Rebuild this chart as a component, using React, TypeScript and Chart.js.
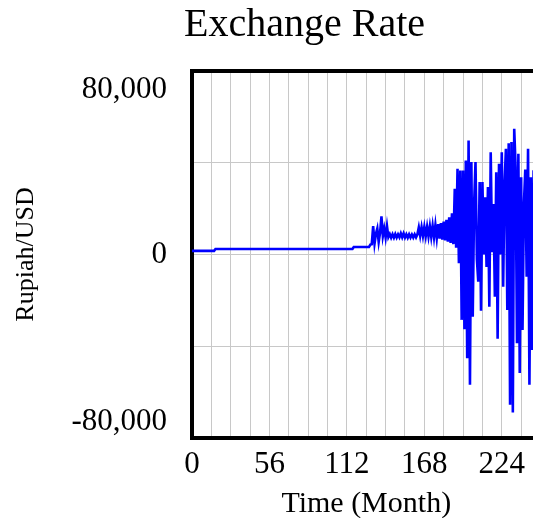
import React, { useEffect, useRef } from "react";
import { Chart, registerables } from "chart.js";

Chart.register(...registerables);

const chartTitle = "Exchange Rate";
const xAxisTitle = "Time (Month)";
const yAxisTitle = "Rupiah/USD";

const xMin = 0;
const xMax = 252;
const xGridStep = 14;
const xLabelStep = 56;

const yMin = -80000;
const yMax = 80000;
const yGridStep = 40000;
const yTickLabels = [80000, 0, -80000];

const months = [
  0, 16, 17, 116, 117, 128,
  129, 130, 131, 132, 133, 134, 135, 136, 137, 138, 139, 140,
  141, 142, 143, 144, 145, 146, 147, 148, 149, 150,
  151, 152, 153, 154, 155, 156, 157, 158, 159, 160,
  161, 162, 163, 164, 165, 166, 167, 168, 169, 170,
  171, 172, 173, 174, 175, 176, 177, 178, 179, 180,
  181, 182, 183, 184, 185, 186, 187, 188, 189, 190,
  191, 192, 193, 194, 195, 196, 197, 198, 199, 200,
  201, 202, 203, 204, 205, 206, 207, 208, 209, 210,
  211, 212, 213, 214, 215, 216, 217, 218, 219, 220,
  221, 222, 223, 224, 225, 226, 227, 228, 229, 230,
  231, 232, 233, 234, 235, 236, 237, 238, 239, 240,
  241, 242, 243, 244, 245, 246, 247, 248, 249, 250,
];

const rupiahPerUsd = [
  1600, 1600, 2400, 2400, 3300, 3300,
  4300, 4500, 12400, 4800, 9000, 11300, 5500, 9500, 16600, 8000, 11300, 7400,
  12400, 7600, 8900, 7300, 8800, 7300, 8900, 7400, 8800, 7500,
  9200, 7500, 9200, 7400, 8800, 7300, 8800, 7400, 8700, 7400,
  8800, 7500, 8800, 11800, 8200, 11900, 8100, 12000, 8000, 12100,
  7900, 12300, 7700, 12500, 7500, 12800, 7200, 13200, 6900, 13700,
  6500, 14300, 6100, 15100, 5600, 16200, 5000, 18000, 4500, 28700,
  3000, 37400, -3800, 36600, -28500, 36650, -32600, 41000, -45200, 49700,
  -56800, 40300, -27100, 22000, 40300, -2000, -11900, 31600, -24500, 31600,
  0, 25000, -5400, 29400, -22800, 44600, 1000, 22000, -18400, 35900,
  -36700, 39600, 0, 44600, -14100, 30900, 46100, -24200, 48500, -65500,
  49000, -68900, 54800, 38100, -38700, 43900, -51700, 33700, -32900, 22000,
  37000, -9700, 46100, -56800, 33700, -41600, 36700, -20000, 30000, 2000,
];

const SERIF = '"Liberation Serif", "Times New Roman", Times, serif';
const GRID = "#c8c8c8";

const yLabelPlugin = {
  id: "vensimYLabels",
  afterDraw(chart: any) {
    const ys = chart.scales.y;
    const ctx = chart.ctx;
    ctx.save();
    ctx.font = `31px ${SERIF}`;
    ctx.fillStyle = "#000";
    ctx.textAlign = "right";
    ctx.textBaseline = "middle";
    for (const v of yTickLabels) {
      let py = ys.getPixelForValue(v);
      if (v === yMax) py += 19;
      else if (v === yMin) py -= 16.5;
      ctx.fillText(v.toLocaleString("en-US"), chart.chartArea.left - 25, py);
    }
    ctx.restore();
  },
};

export default function App() {
  const canvasRef = useRef<HTMLCanvasElement | null>(null);

  useEffect(() => {
    if (!canvasRef.current) return;
    const points = months.map((m, i) => ({ x: m, y: rupiahPerUsd[i] }));
    const chart = new Chart(canvasRef.current, {
      type: "line",
      data: {
        datasets: [
          {
            label: "Exchange Rate",
            data: points,
            borderColor: "#0000ff",
            backgroundColor: "#0000ff",
            borderWidth: 2.6,
            pointRadius: 0,
            tension: 0,
            fill: false,
          },
        ],
      },
      options: {
        animation: false,
        responsive: false,
        devicePixelRatio: 1,
        layout: { padding: 0 },
        plugins: {
          legend: { display: false },
          tooltip: { enabled: false },
          title: {
            display: true,
            text: chartTitle,
            color: "#000",
            font: { family: SERIF, size: 40, weight: "normal", lineHeight: 0.8 },
            padding: { top: 1, bottom: 30 },
          },
        },
        scales: {
          x: {
            type: "linear",
            position: "bottom",
            min: xMin,
            max: xMax,
            ticks: {
              stepSize: xGridStep,
              autoSkip: false,
              maxRotation: 0,
              padding: 11,
              color: "#000",
              font: { family: SERIF, size: 31, lineHeight: 1 },
              callback: (v: any) => (Number(v) % xLabelStep === 0 ? String(v) : ""),
            },
            grid: { color: GRID, lineWidth: 1, drawTicks: false },
            border: { display: true, color: "#000", width: 4 },
            title: {
              display: true,
              text: xAxisTitle,
              color: "#000",
              font: { family: SERIF, size: 30, lineHeight: 0.8 },
              padding: { top: 1, bottom: 2 },
            },
          },
          xTop: {
            type: "linear",
            position: "top",
            min: xMin,
            max: xMax,
            ticks: { display: false },
            grid: { display: false, drawTicks: false },
            border: { display: true, color: "#000", width: 4 },
            afterFit: (s: any) => {
              s.height = 0;
            },
          },
          y: {
            type: "linear",
            position: "left",
            min: yMin,
            max: yMax,
            ticks: { display: false, stepSize: yGridStep },
            grid: { color: GRID, lineWidth: 1, drawTicks: false },
            border: { display: true, color: "#000", width: 4 },
            title: {
              display: true,
              text: yAxisTitle,
              color: "#000",
              font: { family: SERIF, size: 26, lineHeight: 1 },
              padding: { top: 5, bottom: 0 },
            },
            afterFit: (s: any) => {
              s.width = 184;
            },
          },
          yRight: {
            type: "linear",
            position: "right",
            min: yMin,
            max: yMax,
            ticks: { display: false },
            grid: { display: false, drawTicks: false },
            border: { display: false },
            afterFit: (s: any) => {
              s.width = 60.5;
            },
          },
        },
      } as any,
      plugins: [yLabelPlugin],
    });
    return () => chart.destroy();
  }, []);

  return (
    <div
      style={{
        position: "fixed",
        left: 8,
        top: 8,
        width: 525,
        height: 510,
        overflow: "hidden",
      }}
    >
      <canvas ref={canvasRef} width={593} height={510} style={{ display: "block" }} />
    </div>
  );
}
